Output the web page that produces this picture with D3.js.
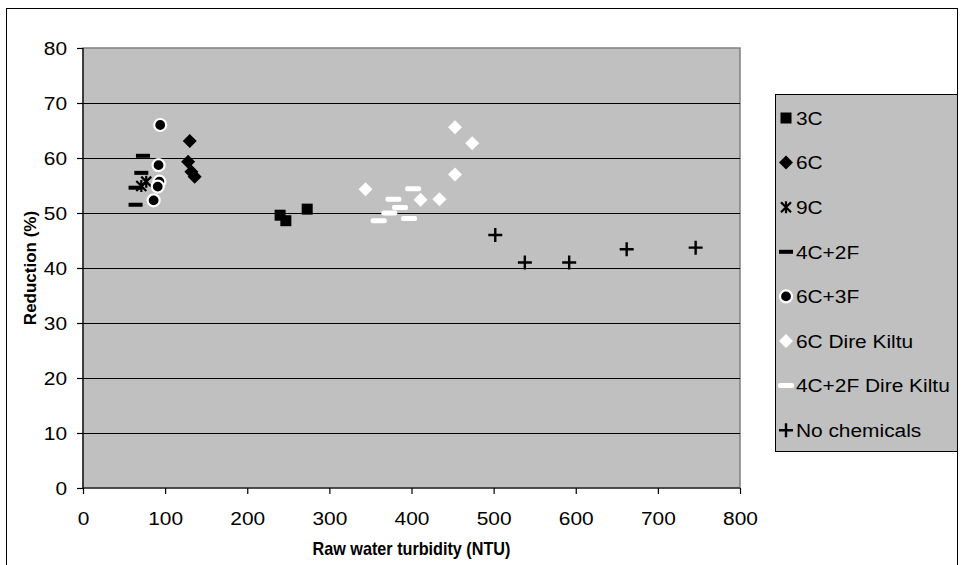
<!DOCTYPE html>
<html>
<head>
<meta charset="utf-8">
<script src="https://cdn.jsdelivr.net/npm/d3@7"></script>
<style>
  body { margin: 0; background: #fff; }
  text { font-family: "Liberation Sans", Arial, sans-serif; }
</style>
</head>
<body>
<div class="chart"></div>
<script>
// series data: [turbidity NTU, reduction %]
const s3C = [[240, 49.6], [247, 48.6], [273, 50.7]];
const s6C = [[130, 63.1], [128, 59.3], [132, 57.5], [136, 56.6]];
const s9C = [[71, 54.9], [77, 55.7]];
const s4C2F = [[73, 60.4], [71, 57.3], [64, 54.6], [64, 51.5]];
const s6C3F = [[94, 66.0], [92, 58.7], [93, 55.7], [91, 54.8], [86, 52.3]];
const s6CDK = [[453, 65.6], [474, 62.7], [453, 57.0], [344, 54.3], [411, 52.4], [434, 52.5]];
const s4C2FDK = [[402, 54.4], [378, 52.5], [386, 51.0], [373, 50.0], [360, 48.6], [397, 49.0]];
const sNone = [[502, 46.0], [538, 41.0], [592, 41.0], [662, 43.4], [746, 43.7]];

const seriesNames = ["3C", "6C", "9C", "4C+2F", "6C+3F", "6C Dire Kiltu", "4C+2F Dire Kiltu", "No chemicals"];
const xTicks = [0, 100, 200, 300, 400, 500, 600, 700, 800];
const yTicks = [0, 10, 20, 30, 40, 50, 60, 70, 80];

const svgWidth = 964, svgHeight = 565;
const plot = {left: 83, top: 48, right: 740, bottom: 488};

const svg = d3.select(".chart").append("svg")
  .attr("width", svgWidth)
  .attr("height", svgHeight);

// outer chart frame
svg.append("rect")
  .attr("x", 6.5).attr("y", 8.5)
  .attr("width", 951).attr("height", 600)
  .attr("fill", "none").attr("stroke", "#000").attr("stroke-width", 1);

const x = d3.scaleLinear().domain([0, 800]).range([plot.left, plot.right]);
const y = d3.scaleLinear().domain([0, 80]).range([plot.bottom, plot.top]);

// plot area
svg.append("rect")
  .attr("x", plot.left).attr("y", plot.top)
  .attr("width", plot.right - plot.left).attr("height", plot.bottom - plot.top)
  .attr("fill", "#c0c0c0").attr("stroke", "#808080").attr("stroke-width", 1.5);

// gridlines
svg.append("g").selectAll("line")
  .data(yTicks.filter(d => d > 0 && d < 80))
  .enter().append("line")
  .attr("x1", plot.left).attr("x2", plot.right)
  .attr("y1", d => Math.round(y(d)) + 0.5).attr("y2", d => Math.round(y(d)) + 0.5)
  .attr("stroke", "#000").attr("stroke-width", 1.2);

// axes
const xAxis = d3.axisBottom(x).tickValues(xTicks).tickSize(6).tickPadding(18);
const yAxis = d3.axisLeft(y).tickValues(yTicks).tickSize(6).tickPadding(10);

const gx = svg.append("g")
  .attr("transform", `translate(0, ${plot.bottom})`)
  .call(xAxis);
const gy = svg.append("g")
  .attr("transform", `translate(${plot.left}, 0)`)
  .call(yAxis);

[gx, gy].forEach(g => {
  g.select(".domain").attr("stroke", "#000").attr("stroke-width", 1.2);
  g.selectAll(".tick line").attr("stroke", "#000").attr("stroke-width", 1.2);
  g.selectAll(".tick text")
    .attr("fill", "#000")
    .attr("transform", "scale(1.1,1)")
    .style("font-size", "19px")
    .style("font-family", "'Liberation Sans', Arial, sans-serif");
});
gx.select(".domain").attr("d", `M${plot.left},0H${plot.right}`);
gy.select(".domain").attr("d", `M0,${plot.top}V${plot.bottom}`);
// keep y labels right edge where scale pushes them
gy.selectAll(".tick text").attr("x", -16 / 1.1);

// axis titles
svg.append("text")
  .attr("transform", `translate(${(plot.left + plot.right) / 2}, 555) scale(0.9,1)`)
  .attr("text-anchor", "middle")
  .style("font-size", "18px").style("font-weight", "bold")
  .text("Raw water turbidity (NTU)");

svg.append("text")
  .attr("transform", `translate(36, ${(plot.top + plot.bottom) / 2}) rotate(-90)`)
  .attr("text-anchor", "middle")
  .style("font-size", "17px").style("font-weight", "bold")
  .text("Reduction (%)");

// marker drawers
const markers = {
  "3C": g => g.append("rect").attr("x", -5.5).attr("y", -5.5).attr("width", 11).attr("height", 11).attr("fill", "#000"),
  "6C": g => g.append("path").attr("d", "M0,-7L7,0L0,7L-7,0Z").attr("fill", "#000"),
  "9C": g => g.append("path").attr("d", "M-5,-5L5,5M-5,5L5,-5M0,-6V6").attr("stroke", "#000").attr("stroke-width", 2.2).attr("fill", "none"),
  "4C+2F": g => g.append("rect").attr("x", -7).attr("y", -2).attr("width", 14).attr("height", 4).attr("fill", "#000"),
  "6C+3F": g => g.append("circle").attr("r", 6).attr("fill", "#000").attr("stroke", "#fff").attr("stroke-width", 2.2),
  "6C Dire Kiltu": g => g.append("path").attr("d", "M0,-7L7,0L0,7L-7,0Z").attr("fill", "#fff"),
  "4C+2F Dire Kiltu": g => g.append("rect").attr("x", -8).attr("y", -2.5).attr("width", 16).attr("height", 5).attr("rx", 2).attr("fill", "#fff"),
  "No chemicals": g => g.append("path").attr("d", "M-7,0H7M0,-7V7").attr("stroke", "#000").attr("stroke-width", 2.4).attr("fill", "none")
};

const allSeries = [s3C, s6C, s9C, s4C2F, s6C3F, s6CDK, s4C2FDK, sNone];

allSeries.forEach((data, i) => {
  const name = seriesNames[i];
  svg.append("g").selectAll("g")
    .data(data)
    .enter().append("g")
    .attr("transform", d => `translate(${x(d[0])}, ${y(d[1])})`)
    .each(function() { markers[name](d3.select(this)); });
});

// legend
const legend = svg.append("g");
legend.append("rect")
  .attr("x", 775.5).attr("y", 94.5)
  .attr("width", 182).attr("height", 357)
  .attr("fill", "#c0c0c0").attr("stroke", "#000").attr("stroke-width", 1);

const legendItems = legend.selectAll("g.item")
  .data(seriesNames)
  .enter().append("g")
  .attr("class", "item")
  .attr("transform", (d, i) => `translate(786, ${118 + i * 44.6})`);

legendItems.each(function(d) { markers[d](d3.select(this)); });
legendItems.append("text")
  .attr("x", 9).attr("dy", "0.36em")
  .attr("transform", "scale(1.1,1)")
  .style("font-size", "19px")
  .text(d => d);
</script>
</body>
</html>
